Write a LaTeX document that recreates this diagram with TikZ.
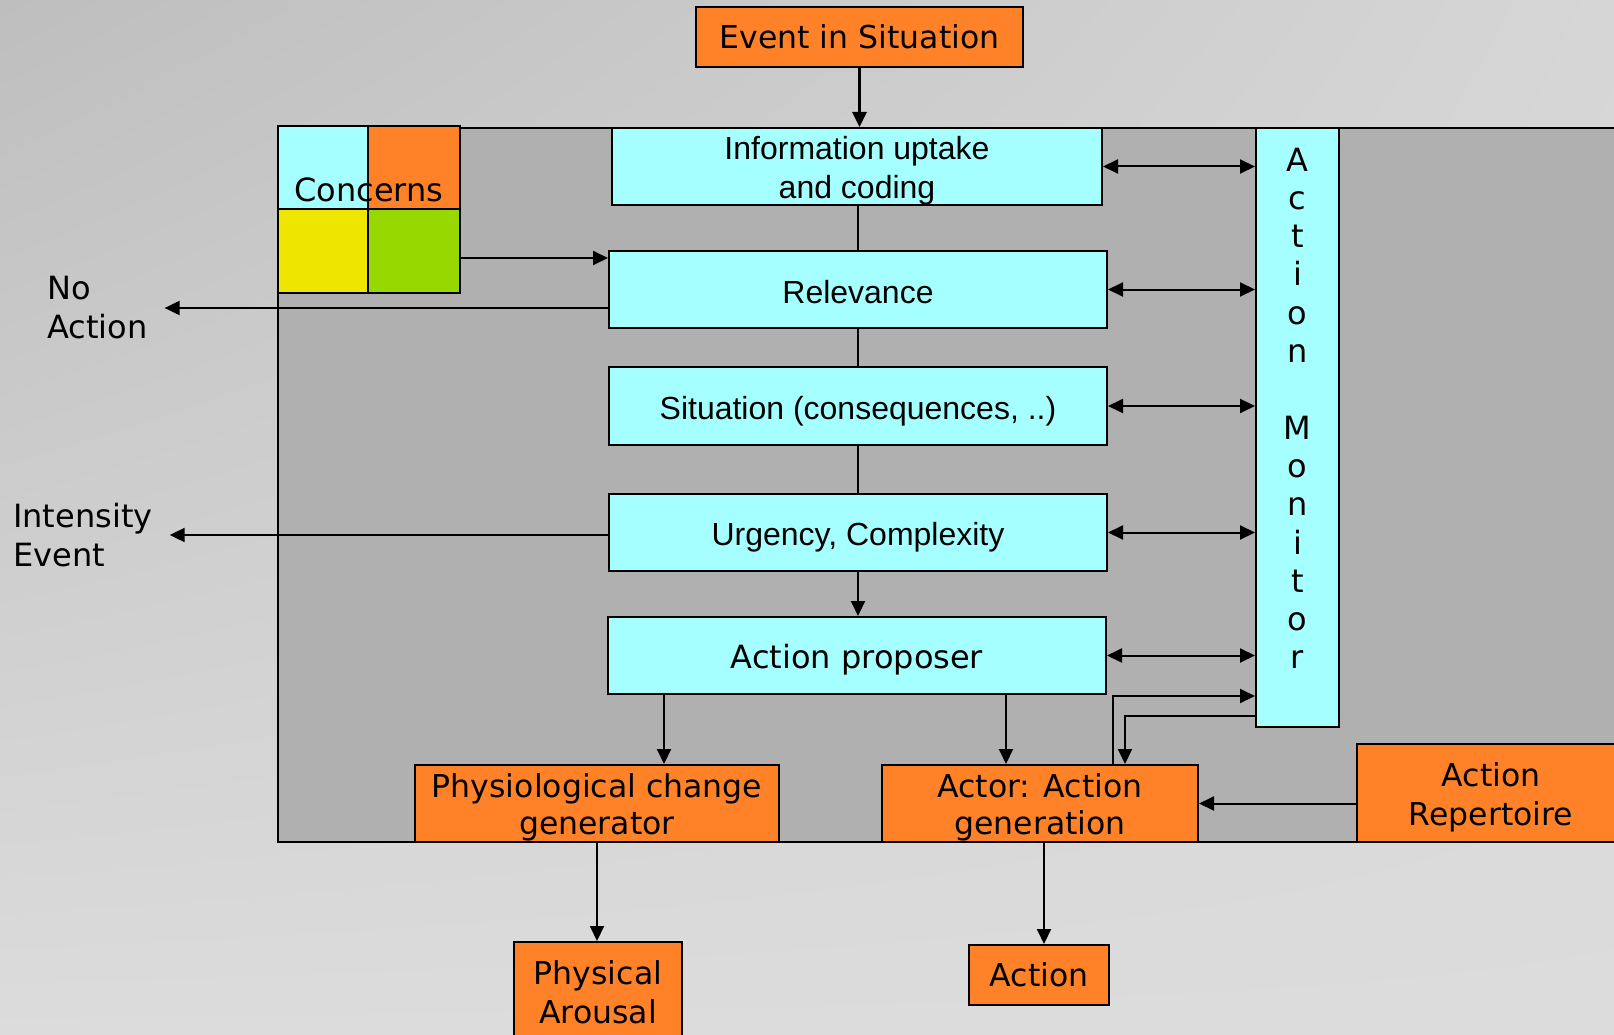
\documentclass[tikz,border=0pt]{standalone}
\usepackage{fontspec}
\setmainfont{DejaVu Sans}
\newfontfamily\arialfont{Liberation Sans}
\usetikzlibrary{positioning,arrows.meta,shadings}

\definecolor{bgtopleft}{RGB}{190,190,190}
\definecolor{bgtopright}{RGB}{214,214,214}
\definecolor{bgbottom}{RGB}{220,220,220}
\definecolor{panelgray}{RGB}{176,176,176}
\definecolor{boxcyan}{RGB}{166,255,255}
\definecolor{boxorange}{RGB}{255,130,41}
\definecolor{boxyellow}{RGB}{238,230,0}
\definecolor{boxgreen}{RGB}{150,216,0}

% text sits a little low in the boxes
\newcommand{\lowstrut}[1][33pt]{\rule{0pt}{#1}}

\begin{document}
\begin{tikzpicture}[
    x=1pt, y=-1pt,
    % Box styles
    cyanbox/.style={draw, line width=2pt, fill=boxcyan, inner sep=0pt, align=center,
        font=\arialfont\fontsize{32}{39}\selectfont},
    orangebox/.style={draw, line width=2pt, fill=boxorange, inner sep=0pt, align=center,
        font=\fontsize{31.5}{39}\selectfont},
    quad/.style={draw, line width=2pt, inner sep=0pt},
    % Label styles
    outlabel/.style={inner sep=0pt, align=left, font=\fontsize{32}{39}\selectfont},
    % Connector styles
    arr/.style={line width=2pt, -{Triangle[length=15pt,width=14pt]}},
    darr/.style={line width=2pt, {Triangle[length=15pt,width=14pt]}-{Triangle[length=15pt,width=14pt]}},
    link/.style={line width=1.5pt},
]

% Background and frame
\useasboundingbox (0,0) rectangle (1614,1035);
\clip (0,0) rectangle (1614,1035);
\shade[upper left=bgtopleft, upper right=bgtopright, lower left=bgbottom, lower right=bgbottom]
    (0,0) rectangle (1614,1035);
\draw[line width=2pt, fill=panelgray] (278,128) rectangle (1640,842);

% Event on top
\node[orangebox, minimum width=327pt, minimum height=60pt] (event) at (859.5,37) {Event in Situation};

% Appraisal chain
\node[cyanbox, minimum width=490pt, minimum height=77pt] (info) at (857,166.5) {\lowstrut[31pt]Information uptake\\and coding};
\node[cyanbox, minimum width=498pt, minimum height=77pt] (rel) at (858,289.5) {\lowstrut[29pt]Relevance};
\node[cyanbox, minimum width=498pt, minimum height=78pt] (sit) at (858,406) {\lowstrut Situation (consequences, ..)};
\node[cyanbox, minimum width=498pt, minimum height=77pt] (urg) at (858,532.5) {\lowstrut Urgency, Complexity};
\node[cyanbox, minimum width=498pt, minimum height=77pt, font=\fontsize{32}{39}\selectfont] (prop) at (857,655.5) {\lowstrut Action proposer};

% Action monitor
\node[cyanbox, minimum width=83pt, minimum height=599pt, font=\fontsize{32}{38.3}\selectfont] (mon) at (1297.5,427.5)
    {A\\c\\t\\i\\o\\n\\\mbox{}\\M\\o\\n\\i\\t\\o\\r\\\mbox{}};

% Concerns block
\node[quad, fill=boxcyan, minimum width=90pt, minimum height=83pt] (conc-tl) at (323,167.5) {};
\node[quad, fill=boxorange, minimum width=92pt, minimum height=83pt] (conc-tr) at (414,167.5) {};
\node[quad, fill=boxyellow, minimum width=90pt, minimum height=84pt] (conc-bl) at (323,251) {};
\node[quad, fill=boxgreen, minimum width=92pt, minimum height=84pt] (conc-br) at (414,251) {};
\node[outlabel] (concerns) at (369,190) {Concerns};

% Generators and outputs
\node[orangebox, minimum width=364pt, minimum height=77pt, font=\fontsize{31.5}{37}\selectfont] (physio) at (597,803.5) {\lowstrut[32pt]Physiological change\\generator};
\node[orangebox, minimum width=316pt, minimum height=77pt, font=\fontsize{31.5}{37}\selectfont] (actor) at (1040,803.5) {\lowstrut[32pt]Actor: Action\\generation};
\node[orangebox, minimum width=268pt, minimum height=98pt] (rep) at (1491,793) {\lowstrut Action\\Repertoire};
\node[orangebox, minimum width=168pt, minimum height=100pt] (arousal) at (598,992) {Physical\\Arousal};
\node[orangebox, minimum width=140pt, minimum height=60pt] (action) at (1039,975) {Action};

% Outside labels
\node[outlabel, anchor=west] (noact) at (47,308) {No\\Action};
\node[outlabel, anchor=west] (intens) at (13,535) {Intensity\\Event};

% Main flow
\draw[arr, line width=3pt] (event.south) -- (event.south |- info.north);
\draw[link] (rel.north |- info.south) -- (rel.north);
\draw[link] (rel.south) -- (sit.north);
\draw[link] (sit.south) -- (urg.north);
\draw[arr] (urg.south) -- (urg.south |- prop.north);
\draw[arr] ([yshift=-7pt]conc-br.east) -- ([yshift=-7pt]conc-br.east -| rel.west);
\draw[arr] (noact.east -| rel.west) -- ([xshift=17pt]noact.east);
\draw[arr] (intens.east -| urg.west) -- ([xshift=17pt]intens.east);

% Links with the monitor
\foreach \stage in {info,rel,sit,urg,prop}
    \draw[darr] (\stage.east) -- (\stage.east -| mon.west);
\draw[arr] ([xshift=73pt]actor.north) |- ([yshift=32pt]mon.south west);
\draw[arr] ([yshift=12pt]mon.south west) -| ([xshift=85pt]actor.north);

% Towards the generators
\draw[arr] ([xshift=67pt]physio.north |- prop.south) -- ([xshift=67pt]physio.north);
\draw[arr] ([xshift=-34pt]actor.north |- prop.south) -- ([xshift=-34pt]actor.north);
\draw[arr] (rep.west |- actor.east) -- (actor.east);
\draw[arr] (physio.south) -- (physio.south |- arousal.north);
\draw[arr] ([xshift=4pt]actor.south) -- ([xshift=4pt]actor.south |- action.north);

\end{tikzpicture}
\end{document}
